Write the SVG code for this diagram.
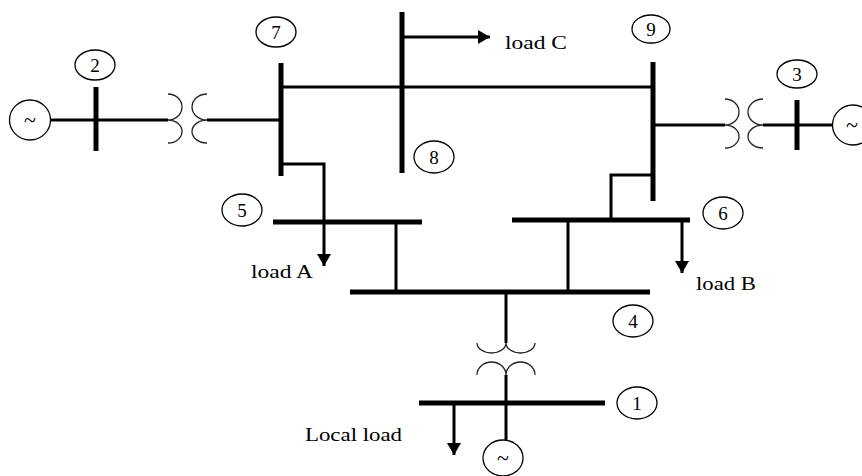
<svg xmlns="http://www.w3.org/2000/svg" width="862" height="476" viewBox="0 0 862 476">
<defs>
<style>
.bus{stroke:#000;stroke-width:5;fill:none}
.ln{stroke:#000;stroke-width:3;fill:none}
.tr{stroke:#222;stroke-width:1.3;fill:none}
.lbl{fill:#fff;stroke:#000;stroke-width:1.3}
.t{font-family:"Liberation Serif","Times New Roman",serif;font-size:19px;fill:#000}
.d{font-family:"Liberation Serif","Times New Roman",serif;font-size:19px;fill:#000;text-anchor:middle}
.g{font-family:"Liberation Serif","Times New Roman",serif;font-size:22px;fill:#000;text-anchor:middle}
</style>
<marker id="ah" viewBox="0 0 12 14" refX="12" refY="7" markerWidth="12" markerHeight="14" markerUnits="userSpaceOnUse" orient="auto">
<path d="M0,0 L12,7 L0,14 Z" fill="#000"/>
</marker>
</defs>
<rect width="862" height="476" fill="#fff"/>

<g id="connectors">
<line class="ln" x1="51" y1="120" x2="168" y2="120"/>
<line class="ln" x1="207" y1="120" x2="281" y2="120"/>
<line class="ln" x1="281" y1="87" x2="653" y2="87"/>
<line class="ln" x1="402" y1="37" x2="490" y2="37" marker-end="url(#ah)"/>
<line class="ln" x1="653" y1="125" x2="725" y2="125"/>
<line class="ln" x1="763" y1="125" x2="833" y2="125"/>
<polyline class="ln" points="281,164 324,164 324,266" marker-end="url(#ah)"/>
<polyline class="ln" points="653,175 611,175 611,222"/>
<line class="ln" x1="396" y1="222" x2="396" y2="292"/>
<line class="ln" x1="568" y1="220" x2="568" y2="292"/>
<line class="ln" x1="682" y1="220" x2="682" y2="273" marker-end="url(#ah)"/>
<line class="ln" x1="506" y1="292" x2="506" y2="343"/>
<line class="ln" x1="506" y1="375" x2="506" y2="440"/>
<line class="ln" x1="454" y1="403" x2="454" y2="455" marker-end="url(#ah)"/>
</g>

<g id="transformer-2-7">
<path class="tr" d="M168,94 A14,13 0 0 1 168,120 M168,120 A14,11.5 0 0 1 168,143"/>
<path class="tr" d="M207,94 A15,13 0 0 0 207,120 M207,120 A15,11.5 0 0 0 207,143"/>
</g>
<g id="transformer-9-3">
<path class="tr" d="M725,99 A14,13 0 0 1 725,125 M725,125 A14,11.5 0 0 1 725,148"/>
<path class="tr" d="M763,99 A15,13 0 0 0 763,125 M763,125 A15,11.5 0 0 0 763,148"/>
</g>
<g id="transformer-4-1">
<path class="tr" d="M477,343 A14.5,10 0 0 0 506,343 M506,343 A14.5,10 0 0 0 535,343"/>
<path class="tr" d="M477,375 A14.5,13 0 0 1 506,375 M506,375 A14.5,13 0 0 1 535,375"/>
</g>

<g id="bus2"><line class="bus" x1="96" y1="87" x2="96" y2="151"/>
<ellipse class="lbl" cx="95" cy="65" rx="20" ry="15"/><text class="d" x="95" y="71.5">2</text></g>
<g id="bus7"><line class="bus" x1="281" y1="63" x2="281" y2="176"/>
<ellipse class="lbl" cx="276" cy="32" rx="20" ry="15"/><text class="d" x="276" y="38.5">7</text></g>
<g id="bus8"><line class="bus" x1="402" y1="12" x2="402" y2="173"/>
<ellipse class="lbl" cx="434" cy="157" rx="20" ry="16"/><text class="d" x="434" y="163.5">8</text></g>
<g id="bus9"><line class="bus" x1="653" y1="62" x2="653" y2="201"/>
<ellipse class="lbl" cx="651" cy="29" rx="19" ry="14"/><text class="d" x="651" y="35.5">9</text></g>
<g id="bus3"><line class="bus" x1="797" y1="100" x2="797" y2="150"/>
<ellipse class="lbl" cx="797" cy="74" rx="20" ry="14"/><text class="d" x="797" y="80.5">3</text></g>
<g id="bus5"><line class="bus" x1="273" y1="222" x2="422" y2="222"/>
<ellipse class="lbl" cx="242" cy="210" rx="20" ry="16"/><text class="d" x="242" y="216.5">5</text></g>
<g id="bus6"><line class="bus" x1="512" y1="220" x2="690" y2="220"/>
<ellipse class="lbl" cx="723" cy="213" rx="20" ry="16"/><text class="d" x="723" y="219.5">6</text></g>
<g id="bus4"><line class="bus" x1="350" y1="292" x2="650" y2="292"/>
<ellipse class="lbl" cx="633" cy="321" rx="20" ry="16"/><text class="d" x="633" y="327.5">4</text></g>
<g id="bus1"><line class="bus" x1="419" y1="403" x2="605" y2="403"/>
<ellipse class="lbl" cx="637" cy="403" rx="20" ry="16"/><text class="d" x="637" y="409.5">1</text></g>

<g id="gen2"><ellipse class="lbl" cx="30" cy="120" rx="20.5" ry="20"/><text class="g" x="30" y="127">~</text></g>
<g id="gen3"><ellipse class="lbl" cx="853" cy="125" rx="20.5" ry="20"/><text class="g" x="852" y="132">~</text></g>
<g id="gen1"><ellipse class="lbl" cx="503" cy="458" rx="20" ry="18"/><text class="g" x="503" y="465">~</text></g>

<g id="labels">
<text class="t" x="505" y="49" textLength="62" lengthAdjust="spacingAndGlyphs">load C</text>
<text class="t" x="251" y="278" textLength="62" lengthAdjust="spacingAndGlyphs">load A</text>
<text class="t" x="696" y="290" textLength="60" lengthAdjust="spacingAndGlyphs">load B</text>
<text class="t" x="305" y="441" textLength="97" lengthAdjust="spacingAndGlyphs">Local load</text>
</g>
</svg>
